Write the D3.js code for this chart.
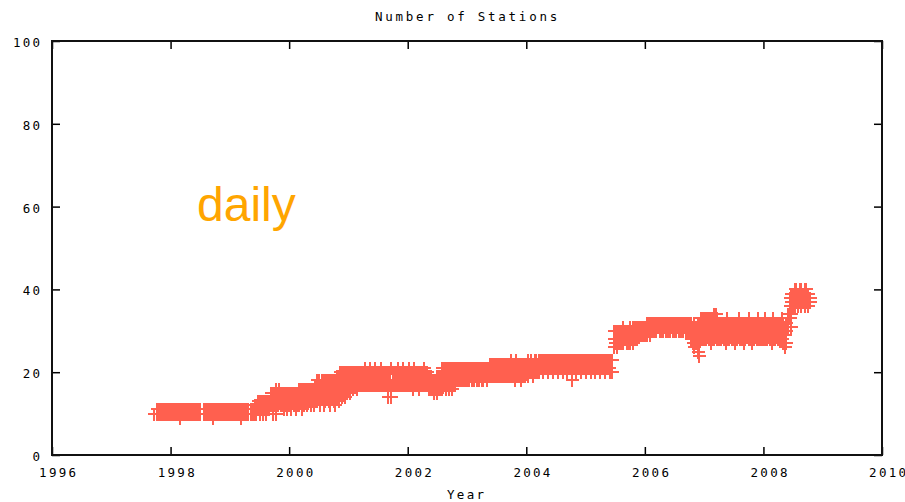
<!DOCTYPE html>
<html><head><meta charset="utf-8">
<script src="https://cdn.jsdelivr.net/npm/d3@7"></script>
<style>body{margin:0;background:#fff}</style>
</head><body><svg id="c" width="905" height="502"></svg>
<script>
const title = "Number of Stations";
const xLabel = "Year";
const annotation = "daily";
const xTicks = [1996, 1998, 2000, 2002, 2004, 2006, 2008, 2010];
const yTicks = [0, 20, 40, 60, 80, 100];
const samplesPerYear = 36;

// daily station counts seen in each 10-day window (lowest ... highest); null = no data
const v1997 = [null,null,null,null,null,null,null,null,null,null,null,null,null,null,null,null,null,null,null,null,null,null,null,null,null,null,
  [10],null,[10,11],[10,11],[10,11],[10,11],[10,11],[10,11],[10,11],[10,11]];
const v1998 = [[10,11],[10,11],[10,11],[10,11],[10,11],[10,11],[9,11],[10,11],[10,11],[10,11],[10,11],[10,11],[10,11],[10,11],[10,11],[10,11],[10,11],[10,11],
  [10,11],null,[10,11],[10,11],[10,11],[10,11],[10,11],[10,11],[9,11],[10,11],[10,11],[10,11],[10,11],[10,11],[10,11],[10,11],[10,11],[10,11]];
const v1999 = [[10,11],[10,11],[10,11],[10,11],[10,11],[10,11],[10,11],[9,11],[10,11],[10,11],[10,11],[10,11],null,
  [10,11],[10,11],[10,12],[10,12],[11,13],[10,13],[11,13],[10,13],[11,13],[10,13],[11,13],[11,13],
  [12,15],[10,13,15],[12,15],[10,13,16],[12,15],[13,16],[12,15],[12,15],[11,13,15],[12,15],[11,13,15]];
const v2000 = [[12,15],[11,13,15],[13,15],[12,15],[11,13,15],[12,15],
  [12,14,16],[13,16],[11,14,16],[12,14,16],[13,16],[12,14,16],[13,16],[12,14,16],[13,16],[12,14,16],[13,15,17],
  [13,16,18],[14,16,18],[12,15,17],[14,16,18],[12,15,18],[13,16,18],[14,16,18],[13,16,18],[12,15,18],[14,16,18],[13,16,18],[12,15,18],[14,17,19],[13,16,19],
  [15,18,20],[14,17,20],[15,18,20],[14,17,20],[15,18,20]];
const v2001 = [[16,18,20],[15,18,20],[17,20],[16,18,20],[17,20],[16,18,20],[17,20],[17,20],
  [17,20],[17,20],[17,19,21],[17,20],[17,20],[17,19,21],[17,20],[17,20],[17,19,21],[17,20],[17,20],[17,20],[17,19,21],[17,20],[17,20],[17,20],
  [14,17,20],[17,20],[14,17,21],[17,20],[17,20],[17,20],[17,19,21],[17,20],[17,20],[17,19,21],[17,20],[17,20]];
const v2002 = [[17,20],[17,19,21],[17,20],[16,18,20],[17,19,21],[17,20],[17,20],[16,18,20],[17,20],[17,20],[17,19,21],[17,20],[17,20],
  [16,19],[16,19],[16,18],[15,18],[16,18],[15,17,19],[16,19],[16,19],
  [16,19,21],[17,19,21],[16,19,21],[17,19,21],[16,19,21],[17,19,21],[16,19,21],[17,19,21],[17,19,21],
  [18,21],[18,21],[18,21],[18,21],[18,21],[18,21]];
const v2003 = [[18,21],[18,21],[19,21],[18,21],[18,21],[19,21],[18,21],[18,21],[19,21],[18,21],[18,21],[19,21],[18,21],[19,21],
  [19,22],[19,22],[19,22],[19,22],[19,22],[19,22],[19,22],[19,22],[19,22],[19,22],[19,22],[19,22],
  [19,22],[19,21,23],[19,22],[18,20,22],[19,21,23],[19,22],[19,22],[18,20,22],[19,22],[19,22]];
const v2004 = [[20,22],[19,21,23],[20,22],[20,23],[19,22],[20,23],[20,23],[20,22],[20,23],
  [21,23],[20,23],[21,23],[21,23],[20,23],[21,23],[21,23],[20,23],[21,23],[21,23],[20,23],[21,23],[21,23],[20,23],
  [21,23],[21,23],[20,23],[21,23],[21,23],[18,21,23],[21,23],[20,23],[21,23],[21,23],[20,23],[21,23],[21,23]];
const v2005 = [[20,23],[21,23],[21,23],[20,23],[21,23],[21,23],[20,23],[21,23],[21,23],[20,23],[21,23],[21,23],[20,23],[21,23],[21,23],[20,23],[20,23],
  [26,28,30],[27,30],[26,28,30],[27,30],[27,30],[27,30],[27,29,31],[28,30],[27,30],[27,30],[27,29,31],[28,30],[27,29,31],[28,31],[28,31],[29,31],[29,31],[29,31],[29,31]];
const v2006 = [[29,31],[29,32],
  [30,32],[29,32],[30,32],[30,32],[30,32],[30,32],[31,32],[30,32],[30,32],[30,32],[31,32],[30,32],[30,32],
  [30,32],[31,32],[30,32],[30,32],[30,32],[31,32],[30,32],[30,32],[30,32],[31,32],[30,32],[30,32],[30,32],
  [28,30,32],[27,29,31],[26,29,32],[27,29,31],[25,28,30,32],[24,27,30,32],[28,31,33],[28,31,33]];
const v2007 = [[28,31,33],[28,31,33],[29,31,33],[28,31,33],[27,30,33],[28,31,33],[28,31,34],[29,31,34],[28,31,33],[28,30,32],
  [28,30,32],[29,32],[28,30,32],[27,30,32],[28,31,33],[28,30,32],[29,32],[28,30,32],[28,30,32],[27,30,32],[28,30,32],[29,31,33],[28,30,32],
  [28,30,32],[27,30,32],[28,30,32],[29,32],[28,31,33],[28,30,32],[27,30,32],[28,30,32],[29,32],[28,30,32],[28,31,33],[28,30,32],[28,30,32]];
const v2008 = [[28,30,32],[28,31,33],[28,30,32],[29,32],[28,30,32],[27,30,32],[28,31,33],[28,30,32],[29,32],[28,30,32],[28,30,32],[28,31,33],
  [27,30,32],[26,29,31],[27,30,32],[31,34],[33,36,38],[31,34,37,39],
  [36,39],[36,38,40],[37,40],[36,39],[37,40],[36,38,40],[37,39],[36,38,40],[37,40],[36,39],[37,38],
  null,null,null,null,null,null,null];

const yearly = [[1997, v1997], [1998, v1998], [1999, v1999], [2000, v2000], [2001, v2001],
  [2002, v2002], [2003, v2003], [2004, v2004], [2005, v2005], [2006, v2006], [2007, v2007], [2008, v2008]];
const data = yearly.flatMap(([yr, vals]) => vals.flatMap((list, i) =>
  list == null ? [] : list.map(v => ({ t: yr + i / samplesPerYear, v }))));

const svg = d3.select("#c");
const x = d3.scaleLinear().domain([1996, 2010]).range([52, 882]);
const y = d3.scaleLinear().domain([0, 100]).range([455, 41]);

const monoFont = "'DejaVu Sans Mono', 'Liberation Mono', monospace";

// points
svg.append("g").selectAll("path").data(data).join("path")
  .attr("transform", d => `translate(${Math.round(x(d.t))},${Math.round(y(d.v))})`)
  .attr("d", "M-6,0H7M0,-6V7")
  .attr("fill", "none")
  .attr("stroke", "#ff604f")
  .attr("stroke-width", 2)
  .attr("shape-rendering", "crispEdges");

function styleAxis(g) {
  g.select(".domain").remove();
  g.selectAll(".tick line").attr("stroke", "#000").attr("stroke-width", 1.5);
  g.selectAll("text").attr("font-family", monoFont).attr("font-size", "12.5px")
    .attr("letter-spacing", "2.3px").attr("fill", "#000");
}

const gb = svg.append("g").attr("transform", "translate(0,455)")
  .call(d3.axisBottom(x).tickValues(xTicks).tickFormat(d3.format("d")).tickSize(-8).tickSizeOuter(0));
styleAxis(gb);
gb.selectAll("text").attr("text-anchor", "start").attr("x", -13.4).attr("y", 21.5).attr("dy", null);

const gt = svg.append("g").attr("transform", "translate(0,41)")
  .call(d3.axisTop(x).tickValues(xTicks).tickFormat("").tickSize(-8).tickSizeOuter(0));
styleAxis(gt);

const gl = svg.append("g").attr("transform", "translate(52,0)")
  .call(d3.axisLeft(y).tickValues(yTicks).tickFormat(d3.format("d")).tickSize(-8).tickSizeOuter(0));
styleAxis(gl);
gl.selectAll("text").attr("text-anchor", "end").attr("x", -9.6).attr("y", 5.5).attr("dy", null);

const gr = svg.append("g").attr("transform", "translate(882,0)")
  .call(d3.axisRight(y).tickValues(yTicks).tickFormat("").tickSize(-8).tickSizeOuter(0));
styleAxis(gr);

// frame
svg.append("rect").attr("x", 52).attr("y", 41).attr("width", 830).attr("height", 414)
  .attr("fill", "none").attr("stroke", "#111").attr("stroke-width", 2);

// title & axis label
svg.append("text").attr("x", 375).attr("y", 21).text(title)
  .attr("font-family", monoFont).attr("font-size", "12.5px").attr("letter-spacing", "2.75px");
svg.append("text").attr("x", 447).attr("y", 499).text(xLabel)
  .attr("font-family", monoFont).attr("font-size", "12.5px").attr("letter-spacing", "2.3px");

// annotation
svg.append("text").attr("x", 197).attr("y", 221).text(annotation)
  .attr("font-family", "'Liberation Sans', Arial, sans-serif").attr("font-size", "48px")
  .attr("fill", "#ffa500");
</script></body></html>
